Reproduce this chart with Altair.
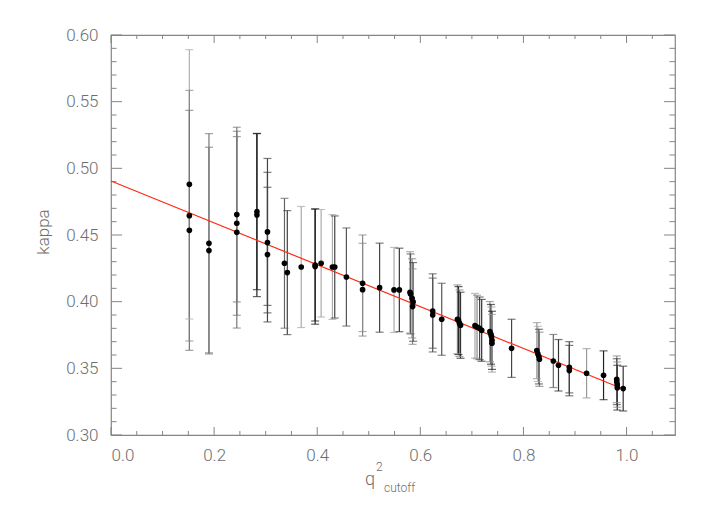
import altair as alt
import pandas as pd

# ---- data ----
x_vals = [0.152, 0.152, 0.152, 0.190, 0.190, 0.244, 0.244, 0.244, 0.283, 0.283,
          0.3035, 0.3035, 0.3035, 0.3365, 0.342, 0.369, 0.396, 0.396, 0.4076, 0.4295,
          0.434, 0.4566, 0.488, 0.488, 0.521, 0.549, 0.5593, 0.580, 0.581, 0.584,
          0.586, 0.585, 0.624, 0.624, 0.6415, 0.672, 0.674, 0.676, 0.678, 0.706,
          0.710, 0.715, 0.719, 0.735, 0.737, 0.738, 0.739, 0.739, 0.777, 0.826,
          0.828, 0.830, 0.831, 0.858, 0.868, 0.889, 0.889, 0.9225, 0.9554, 0.981,
          0.981, 0.982, 0.982, 0.9935]
kappa_vals = [0.488, 0.4645, 0.4535, 0.4438, 0.4383, 0.4653, 0.4588, 0.452, 0.4675, 0.465,
              0.4523, 0.4443, 0.4353, 0.4288, 0.4218, 0.426, 0.4275, 0.4263, 0.4288, 0.426,
              0.426, 0.4185, 0.4138, 0.409, 0.4105, 0.4088, 0.4088, 0.407, 0.4058, 0.4025,
              0.3998, 0.3963, 0.393, 0.390, 0.3868, 0.3868, 0.3858, 0.3838, 0.3823, 0.382,
              0.381, 0.380, 0.3785, 0.3775, 0.3755, 0.3738, 0.371, 0.3688, 0.365, 0.3633,
              0.3608, 0.3588, 0.3568, 0.3555, 0.3523, 0.3508, 0.3483, 0.3463, 0.3448, 0.3418,
              0.340, 0.3378, 0.3355, 0.3348]
err_vals = [0.101, 0.094, 0.090, 0.0822, 0.0775, 0.0655, 0.069, 0.0718, 0.0585, 0.0612,
            0.0551, 0.0527, 0.0505, 0.0487, 0.0465, 0.0454, 0.042, 0.0432, 0.0403, 0.0393,
            0.0383, 0.0368, 0.0362, 0.0348, 0.0334, 0.0319, 0.0313, 0.0305, 0.030, 0.0297,
            0.0295, 0.0283, 0.0279, 0.0277, 0.027, 0.0258, 0.0255, 0.025, 0.0248, 0.0242,
            0.0238, 0.0235, 0.0232, 0.0226, 0.0224, 0.0222, 0.0218, 0.0216, 0.0218, 0.021,
            0.0207, 0.0205, 0.0203, 0.0199, 0.0193, 0.0192, 0.0189, 0.0185, 0.0183, 0.0175,
            0.0172, 0.0170, 0.0168, 0.0168]
bar_shades = ["#b0b0b0", "#888888", "#777777", "#777777", "#777777", "#777777", "#777777", "#777777", "#222222", "#222222",
              "#444444", "#444444", "#444444", "#666666", "#444444", "#aaaaaa", "#222222", "#222222", "#aaaaaa", "#aaaaaa",
              "#444444", "#555555", "#888888", "#888888", "#444444", "#aaaaaa", "#333333", "#999999", "#555555", "#888888",
              "#444444", "#888888", "#555555", "#555555", "#555555", "#888888", "#222222", "#888888", "#333333", "#aaaaaa",
              "#888888", "#444444", "#333333", "#888888", "#222222", "#999999", "#222222", "#999999", "#444444", "#999999",
              "#aaaaaa", "#444444", "#777777", "#666666", "#333333", "#444444", "#444444", "#999999", "#222222", "#888888",
              "#444444", "#888888", "#333333", "#333333"]

fit_x = [0.0, 0.9935]
fit_y = [0.4905, 0.3345]

x_label_vals = [0.0, 0.2, 0.4, 0.6, 0.8, 1.0]
y_label_vals = [0.30, 0.35, 0.40, 0.45, 0.50, 0.55, 0.60]
x_minor_vals = [round(0.05 * i, 2) for i in range(1, 22) if i % 4 != 0]
y_minor_vals = [round(0.30 + 0.01 * i, 2) for i in range(1, 30) if i % 5 != 0]

W, H = 564, 400
XDOM = [0.0, 1.094]
YDOM = [0.30, 0.60]
AX = "#858585"
TXT = "#6e6e6e"
FONT = "Roboto"

df = pd.DataFrame({"q": x_vals, "kappa": kappa_vals, "err": err_vals, "shade": bar_shades})
df["lo"] = df["kappa"] - df["err"]
df["hi"] = df["kappa"] + df["err"]
caps = pd.concat([
    df[["q", "lo", "shade"]].rename(columns={"lo": "v"}),
    df[["q", "hi", "shade"]].rename(columns={"hi": "v"}),
])

xs = alt.Scale(domain=XDOM, nice=False, zero=False)
ys = alt.Scale(domain=YDOM, nice=False, zero=False)

xaxis = alt.Axis(values=x_label_vals, format=".1f", ticks=False, domain=False, grid=False,
                 labelFontSize=17, labelFont=FONT, labelFontWeight=300, labelColor=TXT,
                 labelPadding=12, title=None)
yaxis = alt.Axis(values=y_label_vals, format=".2f", ticks=False, domain=False, grid=False,
                 labelFontSize=17, labelFont=FONT, labelFontWeight=300, labelColor=TXT,
                 labelPadding=13, title=None)

bars = alt.Chart(df).mark_rule(strokeWidth=1.2).encode(
    x=alt.X("q:Q", scale=xs, axis=xaxis),
    y=alt.Y("lo:Q", scale=ys, axis=yaxis),
    y2="hi:Q",
    color=alt.Color("shade:N", scale=None),
)
cap_marks = alt.Chart(caps).mark_tick(orient="horizontal", size=8, thickness=1.2).encode(
    x=alt.X("q:Q", scale=xs), y=alt.Y("v:Q", scale=ys),
    color=alt.Color("shade:N", scale=None),
)
pts = alt.Chart(df).mark_circle(size=32, color="black", opacity=1).encode(
    x=alt.X("q:Q", scale=xs), y=alt.Y("kappa:Q", scale=ys),
)
fit = alt.Chart(pd.DataFrame({"q": fit_x, "kappa": fit_y})).mark_line(
    color="#ff2a10", strokeWidth=1.2).encode(
    x=alt.X("q:Q", scale=xs), y=alt.Y("kappa:Q", scale=ys),
)

tick_layers = []
for vals, ln in [(x_label_vals, 8), (x_minor_vals, 4)]:
    d = pd.DataFrame({"t": vals})
    tick_layers.append(alt.Chart(d).mark_rule(color=AX, strokeWidth=1).encode(
        x=alt.X("t:Q", scale=xs), y=alt.value(H), y2=alt.value(H - ln)))
    tick_layers.append(alt.Chart(d).mark_rule(color=AX, strokeWidth=1).encode(
        x=alt.X("t:Q", scale=xs), y=alt.value(0), y2=alt.value(ln)))
for vals, ln in [(y_label_vals, 11), (y_minor_vals, 5.5)]:
    d = pd.DataFrame({"t": vals})
    tick_layers.append(alt.Chart(d).mark_rule(color=AX, strokeWidth=1).encode(
        y=alt.Y("t:Q", scale=ys), x=alt.value(0), x2=alt.value(ln)))
    tick_layers.append(alt.Chart(d).mark_rule(color=AX, strokeWidth=1).encode(
        y=alt.Y("t:Q", scale=ys), x=alt.value(W), x2=alt.value(W - ln)))

one = pd.DataFrame({"a": [0]})
def label(txt, x, y, size, angle=0, align="left"):
    return alt.Chart(one).mark_text(text=txt, font=FONT, fontWeight=300, fontSize=size,
                                    color=TXT, align=align, baseline="alphabetic",
                                    angle=angle).encode(x=alt.value(x), y=alt.value(y))

titles = [
    label("q", 254, 450, 18),
    label("2", 265, 436, 12),
    label("cutoff", 273, 457, 12),
    label("kappa", -62, 197, 17, angle=270, align="center"),
]

chart = alt.layer(*tick_layers, bars, cap_marks, fit, pts, *titles).properties(
    width=W, height=H,
    autosize=alt.AutoSizeParams(type="none"),
    padding={"left": 103, "top": 27, "right": 25, "bottom": 60},
).configure_view(stroke=AX, strokeWidth=1.2)

chart.save("out.html", embed_options={"renderer": "svg", "actions": False})
